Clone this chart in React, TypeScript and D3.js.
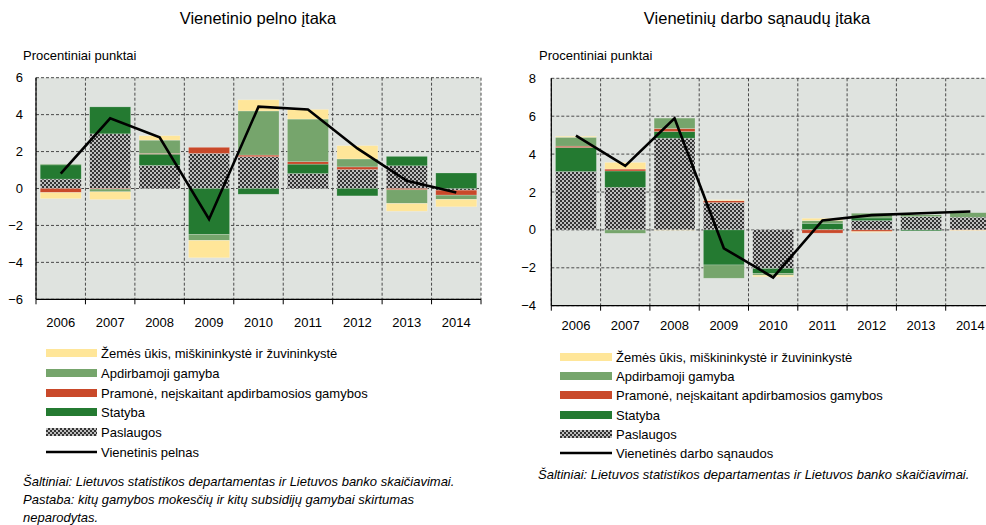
import React from 'react';
import * as d3 from 'd3';

const years = ['2006', '2007', '2008', '2009', '2010', '2011', '2012', '2013', '2014'];

// Left chart: Vienetinio pelno įtaka
const leftPaslaugos = [0.51, 2.96, 1.25, 1.9, 1.72, 0.81, 1.03, 1.23, -0.09];
const leftStatyba = [0.77, 1.46, 0.61, -2.48, -0.31, 0.51, -0.4, 0.51, 0.84];
const leftPramone = [-0.22, -0.03, 0.04, 0.33, 0.09, 0.13, 0.14, -0.07, -0.27];
const leftApdirbamoji = [0.05, -0.15, 0.72, -0.33, 2.39, 2.31, 0.43, -0.74, -0.23];
const leftZemes = [-0.33, -0.42, 0.24, -0.94, 0.6, 0.52, 0.72, -0.42, -0.4];
const leftLine = [0.81, 3.8, 2.77, -1.66, 4.43, 4.28, 2.17, 0.42, -0.22];
const leftTicks = [-6, -4, -2, 0, 2, 4, 6];

// Right chart: Vienetinių darbo sąnaudų įtaka
const rightPaslaugos = [3.08, 2.25, 4.84, 1.44, -2.04, 0.02, 0.49, 0.7, 0.67];
const rightStatyba = [1.27, 0.86, 0.35, -1.85, -0.25, 0.33, 0.14, -0.05, 0.0];
const rightPramone = [0.07, 0.1, 0.16, 0.1, 0.0, -0.17, -0.09, 0.0, -0.02];
const rightApdirbamoji = [0.47, -0.18, 0.55, -0.7, -0.1, 0.14, 0.25, 0.1, 0.24];
const rightZemes = [0.05, 0.35, -0.02, 0.05, -0.08, 0.12, -0.04, 0.0, -0.03];
const rightLine = [4.98, 3.38, 5.89, -0.97, -2.51, 0.5, 0.78, 0.88, 0.97];
const rightTicks = [-4, -2, 0, 2, 4, 6, 8];

const seriesKeys = ['pasl', 'stat', 'pram', 'apd', 'zem'];
const colors: Record<string, string> = {
  zem: '#FFE699',
  apd: '#76A56C',
  pram: '#C9492A',
  stat: '#247A31',
  pasl: 'url(#chk)',
};

const legendNames = [
  'Žemės ūkis, miškininkystė ir žuvininkystė',
  'Apdirbamoji gamyba',
  'Pramonė, neįskaitant apdirbamosios gamybos',
  'Statyba',
  'Paslaugos',
];
const legendKeys = ['zem', 'apd', 'pram', 'stat', 'pasl'];

const FONT = '"Liberation Sans", Arial, sans-serif';

function buildRows(p: number[], s: number[], pr: number[], a: number[], z: number[]) {
  return years.map((y, i) => ({ year: y, pasl: p[i], stat: s[i], pram: pr[i], apd: a[i], zem: z[i] }));
}

type ChartProps = {
  rows: any[];
  line: number[];
  ticks: number[];
  domain: [number, number];
  x0: number; x1: number; y0: number; y1: number;
  title: string; titleX: number;
  labelX: number; tickLabelX: number; xLabelY: number;
};

function Chart(props: ChartProps) {
  const { rows, line, ticks, domain, x0, x1, y0, y1, title, titleX, labelX, tickLabelX, xLabelY } = props;
  const x = d3.scaleBand<string>().domain(years).range([x0, x1]).paddingInner(0.17).paddingOuter(0.085);
  const xb = d3.scaleLinear().domain([0, years.length]).range([x0, x1]);
  const y = d3.scaleLinear().domain(domain).range([y1, y0]);
  const stack = d3.stack<any>().keys(seriesKeys).offset(d3.stackOffsetDiverging);
  const stacked = stack(rows);
  const lineGen = d3.line<number>()
    .x((_, i) => (x(years[i]) as number) + x.bandwidth() / 2)
    .y((d) => y(d));
  const bounds = d3.range(years.length + 1);
  return (
    <g>
      <text x={titleX} y={24} textAnchor="middle" fontSize={16.5} fontFamily={FONT} fill="#000">{title}</text>
      <text x={labelX} y={60} fontSize={13} fontFamily={FONT} fill="#000">Procentiniai punktai</text>
      <rect x={x0} y={y0} width={x1 - x0} height={y1 - y0} fill="#DFE3DF" />
      {ticks.map((t) => (
        <line key={'h' + t} x1={x0} x2={x1} y1={y(t)} y2={y(t)} stroke="#4a4a4a" strokeWidth={1} strokeDasharray="3,2" />
      ))}
      {bounds.map((b) => (
        <line key={'v' + b} x1={xb(b)} x2={xb(b)} y1={y0} y2={y1} stroke="#4a4a4a" strokeWidth={1} strokeDasharray="3,2" />
      ))}
      {stacked.map((s) => (
        <g key={s.key}>
          {s.map((d, i) => {
            const top = y(Math.max(d[0], d[1]));
            const bot = y(Math.min(d[0], d[1]));
            if (bot - top <= 0.01) return null;
            return (
              <rect key={i} x={x(years[i])} y={top} width={x.bandwidth()} height={bot - top}
                fill={colors[s.key]} stroke="rgba(255,255,255,0.35)" strokeWidth={0.6} />
            );
          })}
        </g>
      ))}
      <path d={lineGen(line) || ''} fill="none" stroke="#000" strokeWidth={2.6} strokeLinejoin="miter" />
      <line x1={x0} x2={x0} y1={y0} y2={y1} stroke="#000" strokeWidth={1.2} />
      <line x1={x0} x2={x1} y1={y1} y2={y1} stroke="#000" strokeWidth={1.2} />
      {bounds.map((b) => (
        <line key={'t' + b} x1={xb(b)} x2={xb(b)} y1={y1} y2={y1 + 5} stroke="#000" strokeWidth={1} />
      ))}
      {ticks.map((t) => (
        <text key={'yl' + t} x={tickLabelX} y={y(t)} dy="0.35em" textAnchor="end" fontSize={13} fontFamily={FONT} fill="#000">
          {t < 0 ? '\u2212' + Math.abs(t) : String(t)}
        </text>
      ))}
      {years.map((yr) => (
        <text key={'xl' + yr} x={(x(yr) as number) + x.bandwidth() / 2} y={xLabelY} textAnchor="middle" fontSize={13} fontFamily={FONT} fill="#000">{yr}</text>
      ))}
    </g>
  );
}

function Legend({ sx, tx, ys, lineName }: { sx: number; tx: number; ys: number[]; lineName: string }) {
  return (
    <g>
      {legendKeys.map((k, i) => (
        <g key={k}>
          <rect x={sx} y={ys[i] - 4} width={tx - sx - 4} height={8} fill={colors[k]} />
          <text x={tx} y={ys[i]} dy="0.35em" fontSize={13} fontFamily={FONT} fill="#000">{legendNames[i]}</text>
        </g>
      ))}
      <line x1={sx} x2={tx - 4} y1={ys[5]} y2={ys[5]} stroke="#000" strokeWidth={2.4} />
      <text x={tx} y={ys[5]} dy="0.35em" fontSize={13} fontFamily={FONT} fill="#000">{lineName}</text>
    </g>
  );
}

export default function App() {
  const leftRows = buildRows(leftPaslaugos, leftStatyba, leftPramone, leftApdirbamoji, leftZemes);
  const rightRows = buildRows(rightPaslaugos, rightStatyba, rightPramone, rightApdirbamoji, rightZemes);
  return (
    <svg width={986} height={525} style={{ position: 'absolute', left: 0, top: 0, background: '#fff' }}>
      <defs>
        <pattern id="chk" width={4} height={4} patternUnits="userSpaceOnUse">
          <rect x={0} y={0} width={4} height={4} fill="#bdbdbd" />
          <rect x={0} y={0} width={2} height={2} fill="#333333" />
          <rect x={2} y={2} width={2} height={2} fill="#333333" />
        </pattern>
      </defs>
      <rect x={0} y={0} width={986} height={525} fill="#fff" />
      <Chart rows={leftRows} line={leftLine} ticks={leftTicks} domain={[-6, 6]}
        x0={36} x1={481} y0={77.7} y1={299.3}
        title="Vienetinio pelno įtaka" titleX={258} labelX={23} tickLabelX={23} xLabelY={327} />
      <Chart rows={rightRows} line={rightLine} ticks={rightTicks} domain={[-4, 8]}
        x0={551.3} x1={995} y0={78.3} y1={305.7}
        title="Vienetinių darbo sąnaudų įtaka" titleX={757} labelX={539} tickLabelX={536} xLabelY={330} />
      <Legend sx={46} tx={101} ys={[353, 373, 393, 412, 432, 452]} lineName="Vienetinis pelnas" />
      <Legend sx={560} tx={616} ys={[357, 376, 395, 415, 434, 453]} lineName="Vienetinės darbo sąnaudos" />
      <g fontFamily={FONT} fontStyle="italic" fontSize={13} fill="#000">
        <text x={23} y={486}>Šaltiniai: Lietuvos statistikos departamentas ir Lietuvos banko skaičiavimai.</text>
        <text x={23} y={504}>Pastaba: kitų gamybos mokesčių ir kitų subsidijų gamybai skirtumas</text>
        <text x={23} y={522}>neparodytas.</text>
        <text x={538} y={479}>Šaltiniai: Lietuvos statistikos departamentas ir Lietuvos banko skaičiavimai.</text>
      </g>
    </svg>
  );
}
